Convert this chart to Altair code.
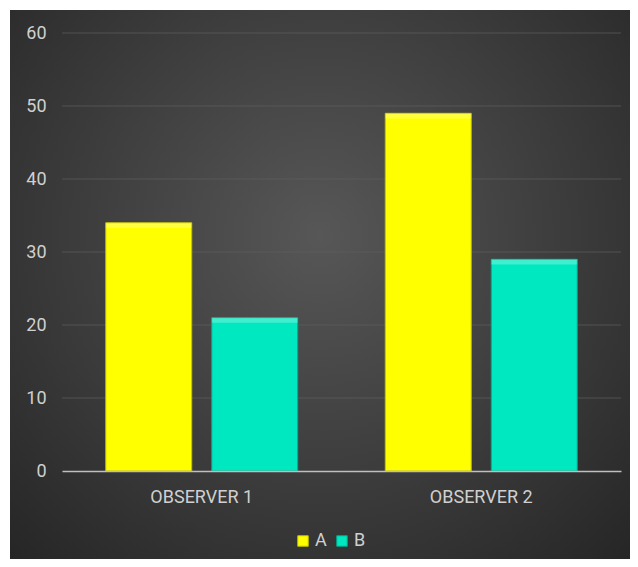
import altair as alt
import pandas as pd

observers = ["OBSERVER 1", "OBSERVER 1", "OBSERVER 2", "OBSERVER 2"]
series = ["A", "B", "A", "B"]
values = [34, 21, 49, 29]
y_ticks = [0, 10, 20, 30, 40, 50, 60]

df = pd.DataFrame({"observer": observers, "series": series, "value": values})
df["top"] = df["value"] - 0.7
grid_df = pd.DataFrame({"tick": y_ticks[1:]})

FONT = "Roboto"
W, H = 559, 438
PL, PT, PR, PB = 54, 25, 9, 88

bg = alt.Chart(alt.Data(values=[{}])).mark_rect(
    fill=alt.RadialGradient(
        gradient="radial",
        x1=0.5, y1=0.42, r1=0.0,
        x2=0.5, y2=0.42, r2=0.72,
        stops=[
            alt.GradientStop(offset=0.0, color="#575757"),
            alt.GradientStop(offset=1.0, color="#262626"),
        ],
    )
).encode(
    x=alt.value(-(PL - 2)), x2=alt.value(W + PR),
    y=alt.value(-(PT - 2)), y2=alt.value(H + PB),
)

grid = alt.Chart(grid_df).mark_rule(color="#5e5e5e", strokeWidth=1, opacity=0.7).encode(
    y=alt.Y("tick:Q"),
    x=alt.value(0), x2=alt.value(W),
)

xenc = alt.X(
    "observer:N",
    scale=alt.Scale(paddingInner=0, paddingOuter=0),
    axis=alt.Axis(
        title=None, ticks=False, labelAngle=0, zindex=2,
        domainColor="#bfbfbf", domainWidth=1.5,
        labelColor="#d0d0d0", labelFont=FONT, labelFontSize=18,
        labelBaseline="middle", labelPadding=26,
    ),
)
xoff = alt.XOffset("series:N", scale=alt.Scale(paddingInner=0.189, paddingOuter=0.413))
yenc = alt.Y(
    "value:Q",
    scale=alt.Scale(domain=[0, 60]),
    axis=alt.Axis(
        title=None, values=y_ticks, ticks=False, domain=False, grid=False, zindex=2,
        labelColor="#d0d0d0", labelFont=FONT, labelFontSize=18,
        labelPadding=16,
    ),
)

leg = dict(
    title=None, orient="none", legendX=232, legendY=499,
    direction="horizontal", symbolType="square", symbolSize=110,
    labelColor="#d0d0d0", labelFont=FONT, labelFontSize=18,
    labelOffset=3, columnPadding=6, padding=0,
    symbolStrokeWidth=1,
)

bars = alt.Chart(df).mark_bar(strokeWidth=1).encode(
    x=xenc,
    xOffset=xoff,
    y=yenc,
    fill=alt.Fill(
        "series:N",
        scale=alt.Scale(domain=["A", "B"], range=["#ffff00", "#00e8c0"]),
        legend=alt.Legend(**leg),
    ),
    stroke=alt.Stroke(
        "series:N",
        scale=alt.Scale(domain=["A", "B"], range=["#c2c200", "#00a98c"]),
        legend=alt.Legend(**leg),
    ),
)

highlight = alt.Chart(df).mark_bar(fill="white", opacity=0.25).encode(
    x=alt.X("observer:N"),
    xOffset=alt.XOffset("series:N"),
    y=alt.Y("value:Q"),
    y2="top:Q",
)

chart = alt.layer(bg, grid, bars, highlight).properties(
    width=W, height=H,
    background="white",
    autosize=alt.AutoSizeParams(type="none"),
    padding={"left": PL, "top": PT, "right": PR, "bottom": PB},
).configure_view(stroke=None)

chart.save("out.html", embed_options={"renderer": "svg", "actions": False})
